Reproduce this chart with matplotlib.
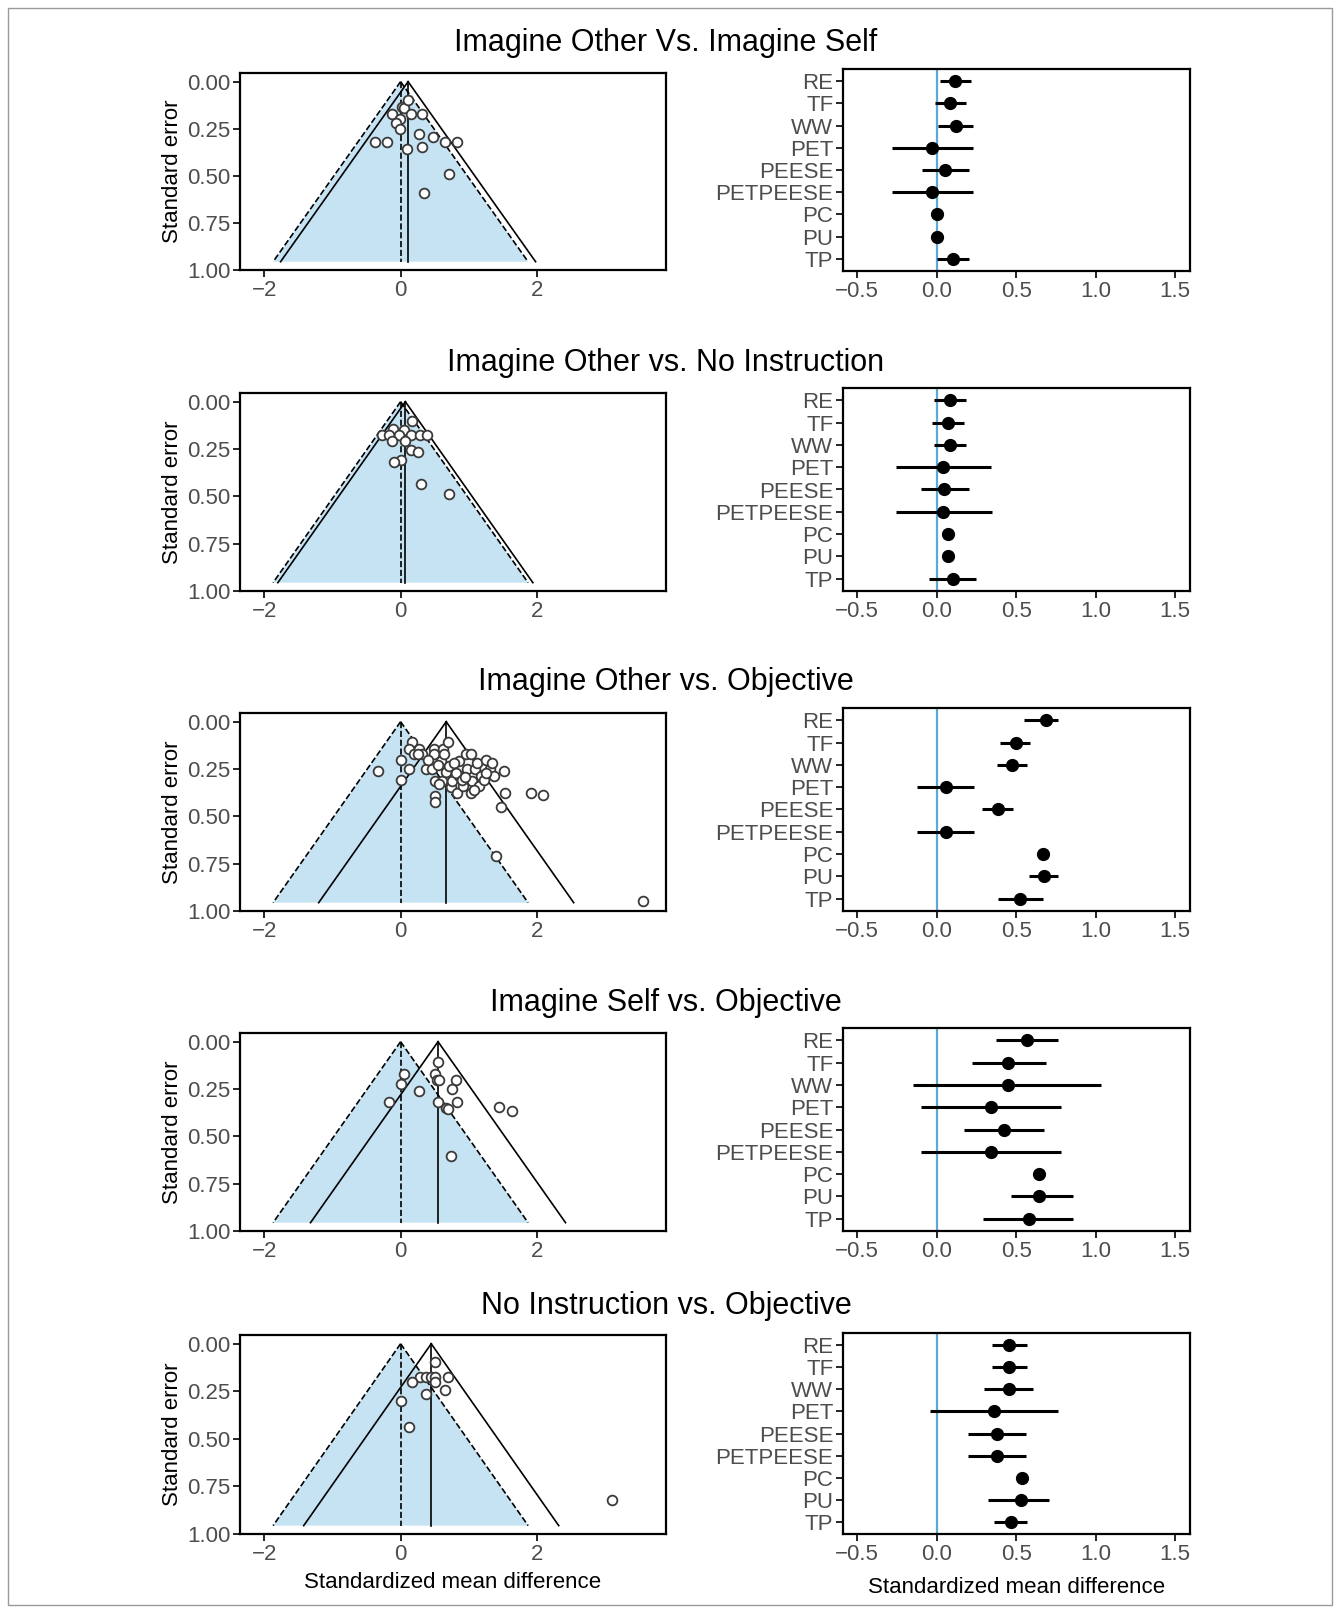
import numpy as np
import matplotlib
matplotlib.use('Agg')
import matplotlib.pyplot as plt
from matplotlib.patches import Rectangle

plt.rcParams['font.family'] = ['Liberation Sans', 'DejaVu Sans']

titles = ['Imagine Other Vs. Imagine Self',
          'Imagine Other vs. No Instruction',
          'Imagine Other vs. Objective',
          'Imagine Self vs. Objective',
          'No Instruction vs. Objective']

methods = ['RE', 'TF', 'WW', 'PET', 'PEESE', 'PETPEESE', 'PC', 'PU', 'TP']

# funnel plot study points (effect size, standard error)
smd_1 = [-0.12, 0.025, 0.05, 0.11, 0.15, 0.32, -0.01, -0.07, -0.01, -0.37, -0.20,
         0.27, 0.32, 0.48, 0.65, 0.83, 0.09, 0.71, 0.34]
se_1 = [0.17, 0.136, 0.14, 0.097, 0.17, 0.17, 0.20, 0.22, 0.25, 0.32, 0.32,
        0.28, 0.345, 0.295, 0.32, 0.32, 0.36, 0.49, 0.59]

smd_2 = [0.17, -0.11, 0.05, -0.27, -0.17, -0.02, 0.15, 0.29, 0.39, -0.12, 0.07,
         0.15, 0.25, 0.01, -0.10, 0.30, 0.71]
se_2 = [0.10, 0.145, 0.15, 0.175, 0.175, 0.175, 0.175, 0.175, 0.175, 0.207, 0.207,
        0.254, 0.265, 0.307, 0.32, 0.435, 0.49]

smd_3 = [-0.33, 0.0, 0.0, 0.17, 0.12, 0.20, 0.12, 0.27, 0.32, 0.37, 0.46, 0.49,
         0.49, 0.59, 0.62, 0.64, 0.69, 0.51, 0.61, 0.66, 0.71, 0.74, 0.76, 0.83,
         0.86, 0.86, 0.91, 0.96, 0.98, 1.03, 1.03, 1.05, 1.10, 1.13, 1.15, 1.18,
         1.25, 1.32, 1.35, 1.37, 1.52, 1.54, 1.47, 1.91, 2.09, 1.40, 0.50, 0.50,
         3.56, 0.55, 0.79, 0.81, 0.90, 0.95, 1.22, 1.26, 0.40, 0.25, 0.57, 1.08]
se_3 = [0.263, 0.20, 0.307, 0.105, 0.142, 0.172, 0.25, 0.142, 0.172, 0.25, 0.25, 0.142,
        0.172, 0.207, 0.142, 0.172, 0.105, 0.312, 0.312, 0.268, 0.233, 0.347, 0.312, 0.374,
        0.286, 0.207, 0.339, 0.172, 0.25, 0.374, 0.172, 0.312, 0.25, 0.216, 0.339, 0.286,
        0.20, 0.25, 0.216, 0.286, 0.263, 0.374, 0.45, 0.374, 0.388, 0.707, 0.39, 0.426,
        0.949, 0.23, 0.22, 0.27, 0.31, 0.29, 0.31, 0.27, 0.20, 0.17, 0.33, 0.36]

smd_4 = [0.55, 0.05, 0.50, 0.53, 0.56, 0.81, 0.0, 0.75, 0.27, -0.17, 0.55, 0.83,
         0.66, 0.70, 1.44, 1.64, 0.74]
se_4 = [0.105, 0.172, 0.172, 0.204, 0.204, 0.202, 0.221, 0.251, 0.263, 0.316, 0.316, 0.316,
        0.351, 0.358, 0.344, 0.368, 0.605]

smd_5 = [0.50, 0.70, 0.29, 0.37, 0.44, 0.51, 0.17, 0.51, 0.65, 0.37, 0.0, 0.12, 3.10]
se_5 = [0.097, 0.174, 0.174, 0.174, 0.174, 0.174, 0.202, 0.202, 0.244, 0.264, 0.30, 0.438, 0.82]

# pooled random-effects estimate used for the solid funnel
pooled = [0.11, 0.07, 0.67, 0.55, 0.45]

# forest plots: estimate and 95% CI per method (nan = no interval)
nan = np.nan
est_1 = [0.115, 0.084, 0.12, -0.027, 0.05, -0.027, 0.004, 0.004, 0.105]
lo_1 = [0.02, -0.01, 0.01, -0.28, -0.094, -0.28, nan, nan, 0.0]
hi_1 = [0.215, 0.185, 0.23, 0.226, 0.2, 0.226, nan, nan, 0.205]

est_2 = [0.08, 0.073, 0.084, 0.036, 0.046, 0.036, 0.07, 0.073, 0.105]
lo_2 = [-0.02, -0.027, -0.02, -0.258, -0.1, -0.258, nan, nan, -0.046]
hi_2 = [0.185, 0.174, 0.185, 0.342, 0.2, 0.346, nan, nan, 0.247]

est_3 = [0.686, 0.497, 0.472, 0.057, 0.388, 0.057, 0.671, 0.675, 0.524]
lo_3 = [0.551, 0.40, 0.377, -0.126, 0.287, -0.126, nan, 0.583, 0.382]
hi_3 = [0.765, 0.587, 0.566, 0.235, 0.482, 0.235, nan, 0.765, 0.671]

est_4 = [0.566, 0.451, 0.447, 0.34, 0.423, 0.34, 0.646, 0.646, 0.58]
lo_4 = [0.371, 0.224, -0.147, -0.1, 0.174, -0.1, nan, 0.468, 0.293]
hi_4 = [0.761, 0.688, 1.034, 0.78, 0.677, 0.78, nan, 0.86, 0.86]

est_5 = [0.455, 0.455, 0.455, 0.36, 0.377, 0.377, 0.539, 0.528, 0.465]
lo_5 = [0.346, 0.346, 0.30, -0.042, 0.195, 0.195, nan, 0.32, 0.36]
hi_5 = [0.566, 0.566, 0.608, 0.761, 0.56, 0.56, nan, 0.709, 0.57]

funnels = [(smd_1, se_1), (smd_2, se_2), (smd_3, se_3), (smd_4, se_4), (smd_5, se_5)]
forests = [(est_1, lo_1, hi_1), (est_2, lo_2, hi_2), (est_3, lo_3, hi_3),
           (est_4, lo_4, hi_4), (est_5, lo_5, hi_5)]

W, H = 1340, 1613
fig = plt.figure(figsize=(W / 100, H / 100), dpi=100)
fig.patches.append(Rectangle((8 / W, 8 / H), 1 - 16 / W, 1 - 16 / H, transform=fig.transFigure,
                             fill=False, edgecolor='#9a9a9a', linewidth=1))

funnel_rows = [(73, 270), (393, 591), (713, 911), (1033, 1231), (1335, 1534)]
forest_rows = [(69, 271), (388, 591), (708, 911), (1028, 1231), (1333, 1534)]
title_y = [43, 363, 682, 1003, 1306]

tick_col = '#4d4d4d'
fill_col = '#c6e3f3'
se_max = 0.956


def style(ax):
    for s in ax.spines.values():
        s.set_linewidth(1.6)
        s.set_color('black')
    ax.tick_params(labelsize=16, colors='black', labelcolor=tick_col, length=5, width=1.2, pad=2)


for i in range(5):
    top, bot = funnel_rows[i]
    ax = fig.add_axes([240 / W, 1 - bot / H, 426 / W, (bot - top) / H])
    se_line = np.array([0, se_max])
    # shaded null funnel
    ax.fill([-1.96 * se_max, 0, 1.96 * se_max], [se_max, 0, se_max], color=fill_col, lw=0, zorder=1)
    ax.plot(-1.96 * se_line, se_line, 'k--', lw=1.2, zorder=2)
    ax.plot(1.96 * se_line, se_line, 'k--', lw=1.2, zorder=2)
    ax.plot([0, 0], se_line, 'k--', lw=1.2, zorder=2)
    m = pooled[i]
    ax.plot(m - 1.96 * se_line, se_line, 'k-', lw=1.2, zorder=2)
    ax.plot(m + 1.96 * se_line, se_line, 'k-', lw=1.2, zorder=2)
    ax.plot([m, m], se_line, 'k-', lw=1.2, zorder=2)
    xs, ys = funnels[i]
    ax.plot(xs, ys, 'o', ms=7, mfc='white', mec='#3a3a3a', mew=1.3, zorder=3)
    ax.set_xlim(-2.36, 3.9)
    ax.set_ylim(1.0, -0.046)
    ax.set_xticks([-2, 0, 2])
    ax.set_yticks([0, 0.25, 0.5, 0.75, 1.0])
    ax.set_yticklabels(['0.00', '0.25', '0.50', '0.75', '1.00'])
    ax.set_ylabel('Standard error', fontsize=16, labelpad=3)
    style(ax)
    if i == 4:
        ax.set_xlabel('Standardized mean difference', fontsize=16, labelpad=5)

    top, bot = forest_rows[i]
    ax2 = fig.add_axes([843 / W, 1 - bot / H, 347 / W, (bot - top) / H])
    est, lo, hi = forests[i]
    ypos = np.arange(len(methods))
    ax2.axvline(0, color='#5aa9d6', lw=1.6, zorder=1)
    ax2.hlines(ypos, lo, hi, color='black', lw=2.2, zorder=2)
    ax2.plot(est, ypos, 'o', color='black', ms=8.5, zorder=3)
    ax2.set_yticks(ypos)
    ax2.set_yticklabels(methods)
    ax2.set_ylim(len(methods) - 1 + 0.55, -0.55)
    ax2.set_xlim(-0.59, 1.593)
    ax2.set_xticks([-0.5, 0.0, 0.5, 1.0, 1.5])
    ax2.set_xticklabels(['\u22120.5', '0.0', '0.5', '1.0', '1.5'])
    style(ax2)
    if i == 4:
        ax2.set_xlabel('Standardized mean difference', fontsize=16, labelpad=9)

    fig.text(666 / W, 1 - title_y[i] / H, titles[i], ha='center', va='center', fontsize=22)

fig.savefig('out.png', dpi=100)
